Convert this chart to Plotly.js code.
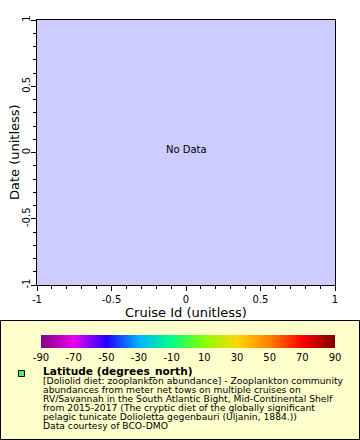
<!DOCTYPE html>
<html>
<head>
<meta charset="utf-8">
<script src="https://cdn.plot.ly/plotly-3.0.1.min.js"></script>
<style>html,body{margin:0;padding:0;background:#fff;}#chart{width:360px;height:440px;}</style>
</head>
<body>
<div id="chart"></div>
<script>
// ---- data ----
var cruiseId = [];            // no data
var dateVals = [];            // no data
var latitude = [];            // no data
var axisTicks = [-1, -0.5, 0, 0.5, 1];
var axisTickLabels = ["-1", "-0.5", "0", "0.5", "1"];
var cbTicks = [-90, -70, -50, -30, -10, 10, 30, 50, 70, 90];
var cbStops = [0, 0.111, 0.222, 0.333, 0.444, 0.556, 0.667, 0.778, 0.889, 1];
var cbColors = ["#800080", "#ee00ee", "#2200ff", "#00b4ff", "#00ff88", "#88ff00", "#ffd700", "#ff8000", "#ff0000", "#800000"];
var legendLines = [
  "[Doliolid diet: zooplankton abundance] - Zooplankton community",
  "abundances from meter net tows on multiple cruises on",
  "RV/Savannah in the South Atlantic Bight, Mid-Continental Shelf",
  "from 2015-2017 (The cryptic diet of the globally significant",
  "pelagic tunicate Dolioletta gegenbauri (Uljanin, 1884.))",
  "Data courtesy of BCO-DMO"
];
var legendTitle = "Latitude (degrees_north)";
var xTitle = "Cruise Id (unitless)";
var yTitle = "Date (unitless)";

// ---- layout helpers (pixel -> paper) ----
var L = 37, R = 335, T = 20, B = 285;
function px(p) { return (p - L) / (R - L); }
function py(p) { return (B - p) / (B - T); }

var colorscale = cbStops.map(function (s, i) { return [s, cbColors[i]]; });

var trace = {
  type: 'scatter', mode: 'markers',
  x: cruiseId.length ? cruiseId : [null],
  y: dateVals.length ? dateVals : [null],
  marker: {
    color: latitude.length ? latitude : [0],
    colorscale: colorscale, cmin: -90, cmax: 90, showscale: true,
    colorbar: {
      orientation: 'h',
      x: px(188), xanchor: 'center', len: 294, lenmode: 'pixels',
      y: py(335), yanchor: 'top', thickness: 13, thicknessmode: 'pixels',
      xpad: 0, ypad: 0, outlinewidth: 0, borderwidth: 0,
      tickvals: cbTicks, ticktext: cbTicks.map(String), ticks: '',
      tickfont: { family: 'DejaVu Sans', size: 10, color: '#000' }
    }
  },
  showlegend: false, hoverinfo: 'skip'
};

var font = { family: 'DejaVu Sans', size: 10, color: '#000' };
var axisCommon = {
  range: [-1, 1], autorange: false, tickmode: 'array',
  tickvals: axisTicks, ticktext: axisTickLabels,
  ticks: 'outside', ticklen: 5, tickwidth: 1, tickcolor: '#000',
  minor: { dtick: 0.1, ticks: 'outside', ticklen: 3, tickcolor: '#000', showgrid: false },
  showline: true, linecolor: '#000', linewidth: 1, mirror: true,
  showgrid: false, zeroline: false, tickfont: font
};

var titleFont = { family: 'DejaVu Sans', size: 13, color: '#000' };
var textFont = { family: 'DejaVu Sans', size: 9.2, color: '#000' };
var annotations = [
  { text: 'No Data', x: 0, y: 0.02, xref: 'x', yref: 'y', showarrow: false,
    font: { family: 'DejaVu Sans', size: 10, color: '#000' } },
  { text: xTitle, x: px(186), y: py(312), xref: 'paper', yref: 'paper', showarrow: false,
    xanchor: 'center', yanchor: 'middle', borderpad: 0, font: titleFont },
  { text: yTitle, x: px(14), y: py(152), xref: 'paper', yref: 'paper', showarrow: false,
    xanchor: 'center', yanchor: 'middle', textangle: -90, borderpad: 0, font: titleFont },
  { text: '<b>' + legendTitle + '</b>', x: px(42), y: py(371.3), xref: 'paper', yref: 'paper',
    xanchor: 'left', yanchor: 'middle', showarrow: false, borderpad: 0,
    font: { family: 'DejaVu Sans', size: 10.6, color: '#000' } }
];
var lineCenters = [380.8, 389.5, 398.4, 407.4, 416.4, 425.1];
legendLines.forEach(function (t, i) {
  annotations.push({ text: t, x: px(42), y: py(lineCenters[i]), xref: 'paper', yref: 'paper',
    xanchor: 'left', yanchor: 'middle', showarrow: false, borderpad: 0, font: textFont });
});

var layout = {
  width: 360, height: 440,
  margin: { l: L, r: 360 - R, t: T, b: 440 - B, pad: 0 },
  paper_bgcolor: '#ffffff', plot_bgcolor: '#ccccff',
  font: font,
  xaxis: Object.assign({}, axisCommon, {}),
  yaxis: Object.assign({}, axisCommon, { tickangle: -90, ticklabelstandoff: -3 }),
  shapes: [
    { type: 'rect', xref: 'paper', yref: 'paper', x0: px(0.5), x1: px(359.5), y0: py(320.5), y1: py(439.5),
      fillcolor: '#ffffcc', line: { color: '#000', width: 1 }, layer: 'below' },
    { type: 'rect', xref: 'paper', yref: 'paper', x0: px(18.5), x1: px(24.5), y0: py(370.5), y1: py(376.5),
      fillcolor: '#44ff44', line: { color: '#000', width: 1 } }
  ],
  annotations: annotations,
  showlegend: false
};

Plotly.newPlot('chart', [trace], layout, { displayModeBar: false, staticPlot: true });
</script>
</body>
</html>
